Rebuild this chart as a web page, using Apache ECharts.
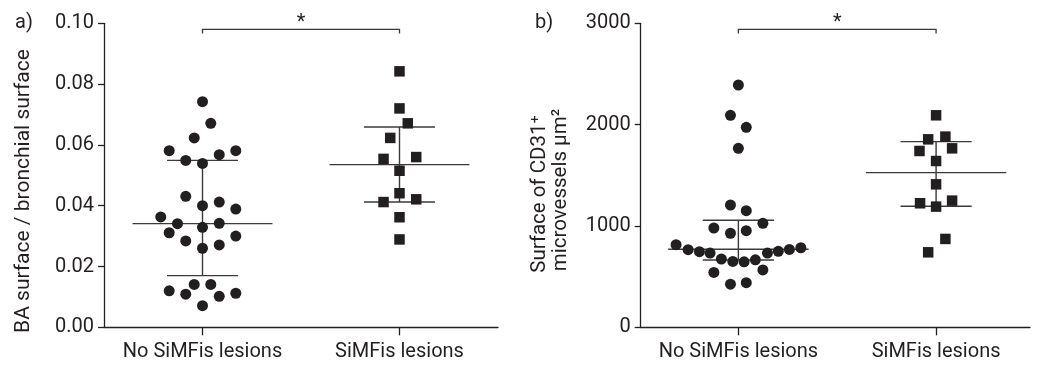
<!DOCTYPE html>
<html>
<head>
<meta charset="utf-8">
<script src="https://cdn.jsdelivr.net/npm/echarts@6/dist/echarts.min.js"></script>
<style>
html, body { margin: 0; background: #fff; }
#chart { width: 1040px; height: 365px; }
</style>
</head>
<body>
<div id="chart"></div>
<script>
var groups = ['No SiMFis lesions', 'SiMFis lesions'];

// a) BA surface / bronchial surface
var baNo = [0.0742, 0.0671, 0.0623, 0.0581, 0.0581, 0.0568, 0.0549, 0.0539, 0.0431, 0.0400,
            0.0412, 0.0389, 0.0363, 0.0341, 0.0329, 0.0342, 0.0311, 0.0300, 0.0284, 0.0271,
            0.0260, 0.0120, 0.0141, 0.0141, 0.0109, 0.0112, 0.0102, 0.0071];
var baYes = [0.0842, 0.0720, 0.0671, 0.0623, 0.0554, 0.0560, 0.0515, 0.0441, 0.0412, 0.0421,
             0.0362, 0.0289];
// median, q1, q3 per group
var baSummary = [[0, 0.0341, 0.0170, 0.0549], [1, 0.0535, 0.0412, 0.0659]];
var baTicks = [0, 0.02, 0.04, 0.06, 0.08, 0.10];

// b) surface of CD31+ microvessels
var cdNo = [2391, 2092, 1974, 1766, 1207, 1151, 980, 928, 953, 1026,
            815, 766, 746, 733, 674, 650, 646, 666, 733, 750,
            768, 785, 541, 566, 426, 440];
var cdYes = [2092, 1855, 1882, 1740, 1766, 1641, 1411, 1224, 1250, 1191, 872, 740];
var cdSummary = [[0, 770, 664, 1056], [1, 1526, 1194, 1832]];
var cdTicks = [0, 1000, 2000, 3000];

// horizontal swarm offsets (category units) so dots don't overlap
var baNoJitter = [0, 0.042, -0.042, -0.169, 0.169, 0.085, -0.085, 0, -0.085, 0,
                  0.085, 0.169, -0.212, -0.127, 0, 0.085, -0.169, 0.169, -0.085, 0.085,
                  0, -0.169, -0.042, 0.042, -0.085, 0.169, 0.085, 0];
var baYesJitter = [0, 0, 0.042, -0.047, -0.081, 0.085, 0, 0, -0.081, 0.085, 0, 0];
var cdNoJitter = [0, -0.04, 0.04, 0, -0.04, 0.04, -0.124, -0.04, 0.04, 0.124,
                  -0.315, -0.254, -0.197, -0.143, -0.086, -0.028, 0.029, 0.086, 0.147, 0.202,
                  0.258, 0.316, -0.124, 0.124, -0.04, 0.04];
var cdYesJitter = [0, -0.04, 0.047, -0.084, 0.081, 0, 0, -0.081, 0.081, 0, 0.047, -0.04];

var ink = '#231f20';
var font = 'Roboto, sans-serif';

function swarm(g, vals, jit) {
    return vals.map(function (v, i) { return [g + jit[i], v]; });
}

function renderErr(params, api) {
    var x = api.value(0);
    var mid = api.coord([x, api.value(1)]);
    var lo = api.coord([x, api.value(2)]);
    var hi = api.coord([x, api.value(3)]);
    var mL = api.coord([x - 0.355, api.value(1)])[0];
    var mR = api.coord([x + 0.355, api.value(1)])[0];
    var sL = api.coord([x - 0.18, 0])[0];
    var sR = api.coord([x + 0.18, 0])[0];
    var st = { stroke: '#3a3a3a', lineWidth: 1.4 };
    return {
        type: 'group',
        children: [
            { type: 'line', shape: { x1: mL, y1: mid[1], x2: mR, y2: mid[1] }, style: st },
            { type: 'line', shape: { x1: lo[0], y1: lo[1], x2: hi[0], y2: hi[1] }, style: st },
            { type: 'line', shape: { x1: sL, y1: lo[1], x2: sR, y2: lo[1] }, style: st },
            { type: 'line', shape: { x1: sL, y1: hi[1], x2: sR, y2: hi[1] }, style: st }
        ]
    };
}

function renderBracket(params, api) {
    var a = api.coord([api.value(0), api.value(2)]);
    var b = api.coord([api.value(1), api.value(2)]);
    var st = { stroke: '#3a3a3a', lineWidth: 1.3, fill: null };
    return {
        type: 'group',
        children: [
            { type: 'polyline', shape: { points: [[a[0], a[1] + 4], a, b, [b[0], b[1] + 4]] }, style: st },
            { type: 'text', x: (a[0] + b[0]) / 2, y: a[1] - 6,
              style: { text: '*', fill: ink, font: '20px ' + font, align: 'center', verticalAlign: 'middle' } }
        ]
    };
}

function xAxisFor(gi, min, max) {
    return {
        type: 'value', gridIndex: gi, min: min, max: max,
        splitLine: { show: false },
        axisLine: { onZero: false, lineStyle: { color: ink, width: 1.3 } },
        axisTick: { customValues: [0, 1], length: 8, lineStyle: { color: ink, width: 1.3 } },
        axisLabel: {
            customValues: [0, 1], margin: 15, color: ink, fontSize: 20, fontFamily: font,
            formatter: function (v) { return groups[Math.round(v)]; }
        }
    };
}

function yAxisFor(gi, ticks, digits) {
    return {
        type: 'value', gridIndex: gi,
        min: ticks[0], max: ticks[ticks.length - 1], interval: ticks[1] - ticks[0],
        splitLine: { show: false },
        axisLine: { show: true, onZero: false, lineStyle: { color: ink, width: 1.3 } },
        axisTick: { show: true, length: 6, lineStyle: { color: ink, width: 1.3 } },
        axisLabel: {
            margin: 10, color: ink, fontSize: 20, fontFamily: font,
            formatter: function (v) { return v.toFixed(digits); }
        }
    };
}

var chart = echarts.init(document.getElementById('chart'));
var option = {
    animation: false,
    grid: [
        { left: 104, top: 23.3, width: 394, height: 304 },
        { left: 640.7, top: 23.3, width: 389.3, height: 304 }
    ],
    xAxis: [xAxisFor(0, -0.5, 1.5), xAxisFor(1, -0.494, 1.475)],
    yAxis: [yAxisFor(0, baTicks, 2), yAxisFor(1, cdTicks, 0)],
    graphic: [
        { type: 'text', left: 15, top: 13, style: { text: 'a)', fill: ink, font: '20px ' + font } },
        { type: 'text', left: 535, top: 13, style: { text: 'b)', fill: ink, font: '20px ' + font } },
        { type: 'text', x: 24, y: 191, rotation: Math.PI / 2,
          style: { text: 'BA surface / bronchial surface', fill: ink, font: '21px ' + font,
                   align: 'center', verticalAlign: 'middle' } },
        { type: 'text', x: 540, y: 194, rotation: Math.PI / 2,
          style: { text: 'Surface of CD31\u207A', fill: ink, font: '20.5px ' + font,
                   align: 'center', verticalAlign: 'middle' } },
        { type: 'text', x: 561, y: 190, rotation: Math.PI / 2,
          style: { text: 'microvessels \u00B5m\u00B2', fill: ink, font: '20.5px ' + font,
                   align: 'center', verticalAlign: 'middle' } }
    ],
    series: [
        { type: 'custom', xAxisIndex: 0, yAxisIndex: 0, renderItem: renderErr, data: baSummary, z: 1 },
        { type: 'custom', xAxisIndex: 1, yAxisIndex: 1, renderItem: renderErr, data: cdSummary, z: 1 },
        { type: 'custom', xAxisIndex: 0, yAxisIndex: 0, renderItem: renderBracket, data: [[0, 1, 0.098]], clip: false },
        { type: 'custom', xAxisIndex: 1, yAxisIndex: 1, renderItem: renderBracket, data: [[0, 1, 2940]], clip: false },
        { type: 'scatter', xAxisIndex: 0, yAxisIndex: 0, symbol: 'circle', symbolSize: 11,
          itemStyle: { color: ink, opacity: 1 }, data: swarm(0, baNo, baNoJitter), z: 3 },
        { type: 'scatter', xAxisIndex: 0, yAxisIndex: 0, symbol: 'rect', symbolSize: 10.5,
          itemStyle: { color: ink, opacity: 1 }, data: swarm(1, baYes, baYesJitter), z: 3 },
        { type: 'scatter', xAxisIndex: 1, yAxisIndex: 1, symbol: 'circle', symbolSize: 11,
          itemStyle: { color: ink, opacity: 1 }, data: swarm(0, cdNo, cdNoJitter), z: 3 },
        { type: 'scatter', xAxisIndex: 1, yAxisIndex: 1, symbol: 'rect', symbolSize: 10.5,
          itemStyle: { color: ink, opacity: 1 }, data: swarm(1, cdYes, cdYesJitter), z: 3 }
    ]
};
chart.setOption(option);

window.addEventListener('resize', function () {
    chart.resize();
});
</script>
</body>
</html>
